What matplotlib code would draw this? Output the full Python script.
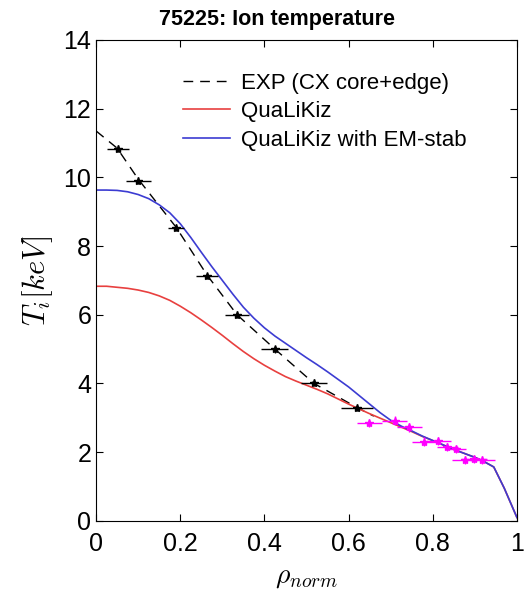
import matplotlib
matplotlib.use("Agg")
import matplotlib.pyplot as plt
import numpy as np

plt.rcParams['font.family'] = ['Liberation Sans', 'DejaVu Sans']
plt.rcParams['mathtext.fontset'] = 'cm'

# experimental profile (CX core), points with horizontal/vertical errors
cx_core_rho = [0.052, 0.10, 0.19, 0.264, 0.335, 0.425, 0.518, 0.62]
cx_core_ti = [10.83, 9.9, 8.53, 7.13, 6.0, 5.0, 4.02, 3.3]
cx_core_xerr = [0.026, 0.03, 0.02, 0.026, 0.028, 0.032, 0.03, 0.038]
cx_core_yerr = [0.1, 0.1, 0.1, 0.1, 0.1, 0.1, 0.1, 0.1]

# experimental profile (CX edge)
cx_edge_rho = [0.649, 0.71, 0.744, 0.78, 0.813, 0.834, 0.855, 0.876, 0.898, 0.918]
cx_edge_ti = [2.86, 2.92, 2.72, 2.31, 2.33, 2.16, 2.09, 1.78, 1.80, 1.78]
cx_edge_xerr = [0.03, 0.03, 0.03, 0.03, 0.03, 0.025, 0.025, 0.03, 0.03, 0.03]
cx_edge_yerr = [0.12, 0.12, 0.12, 0.12, 0.12, 0.12, 0.12, 0.12, 0.12, 0.12]

# fitted experimental profile (dashed)
exp_rho = [0.0, 0.05, 0.10, 0.19, 0.264, 0.335, 0.425, 0.518, 0.62, 0.66]
exp_ti = [11.35, 10.85, 9.95, 8.55, 7.15, 6.0, 5.0, 4.0, 3.3, 3.05]

# simulated profiles
sim_rho = [0.0, 0.025, 0.05, 0.075, 0.10, 0.125, 0.15, 0.175, 0.20, 0.225,
           0.25, 0.275, 0.30, 0.325, 0.35, 0.375, 0.40, 0.425, 0.45, 0.475,
           0.50, 0.525, 0.55, 0.575, 0.60, 0.625, 0.65, 0.675, 0.70, 0.725,
           0.75, 0.775, 0.80, 0.85, 0.90, 0.92, 0.945, 0.97, 1.0]
qlk_ti = [6.83, 6.83, 6.80, 6.77, 6.72, 6.65, 6.55, 6.42, 6.25, 6.06,
          5.85, 5.63, 5.40, 5.16, 4.93, 4.72, 4.53, 4.36, 4.20, 4.07,
          3.95, 3.83, 3.70, 3.55, 3.40, 3.26, 3.12, 2.99, 2.86, 2.73,
          2.60, 2.46, 2.34, 2.08, 1.85, 1.74, 1.57, 0.95, 0.10]
qlk_em_ti = [9.63, 9.63, 9.62, 9.58, 9.50, 9.38, 9.20, 8.97, 8.65, 8.25,
             7.82, 7.40, 7.00, 6.60, 6.22, 5.90, 5.62, 5.38, 5.17, 4.96,
             4.75, 4.55, 4.34, 4.12, 3.90, 3.65, 3.40, 3.15, 2.93, 2.76,
             2.62, 2.47, 2.34, 2.08, 1.85, 1.74, 1.57, 0.95, 0.10]

fig = plt.figure(figsize=(5.28, 6.05), dpi=100)
ax = fig.add_axes([0.182, 0.139, 0.797, 0.795])

ax.plot(exp_rho, exp_ti, color='black', lw=1.0, dashes=(7, 5),
        label='EXP (CX core+edge)')
ax.plot(sim_rho, qlk_ti, color='#e8403f', lw=1.2, label='QuaLiKiz')
ax.plot(sim_rho, qlk_em_ti, color='#3c3cd2', lw=1.2,
        label='QuaLiKiz with EM-stab')

ax.errorbar(cx_core_rho, cx_core_ti, xerr=cx_core_xerr, yerr=cx_core_yerr,
            fmt='*', color='black', ms=6, elinewidth=1.0, capsize=0)
ax.errorbar(cx_edge_rho, cx_edge_ti, xerr=cx_edge_xerr, yerr=cx_edge_yerr,
            fmt='*', color='#ff00ff', ms=6, elinewidth=1.0, capsize=0)

ax.set_xlim(0, 1)
ax.set_ylim(0, 14)
ax.set_xticks([0, 0.2, 0.4, 0.6, 0.8, 1])
ax.set_xticklabels(['0', '0.2', '0.4', '0.6', '0.8', '1'])
ax.set_yticks(np.arange(0, 15, 2))
ax.tick_params(direction='in', top=True, right=True, labelsize=18,
               length=5, width=0.8)
ax.tick_params(axis='x', pad=8)
for s in ax.spines.values():
    s.set_linewidth(0.8)

ax.set_xlabel(r'$\rho_{norm}$', fontsize=20, labelpad=6)
ax.set_ylabel(r'$T_i[keV]$', fontsize=22, labelpad=6)
fig.text(277 / 528, 1 - 20 / 605, '75225: Ion temperature', ha='center',
         va='center', fontsize=15.5, fontweight='bold')

ax.legend(loc='upper left', bbox_to_anchor=(0.185, 0.95), frameon=False,
          fontsize=16, handlelength=2.1, handletextpad=0.5, labelspacing=0.33,
          borderaxespad=0)

fig.savefig('out.png', dpi=100)
